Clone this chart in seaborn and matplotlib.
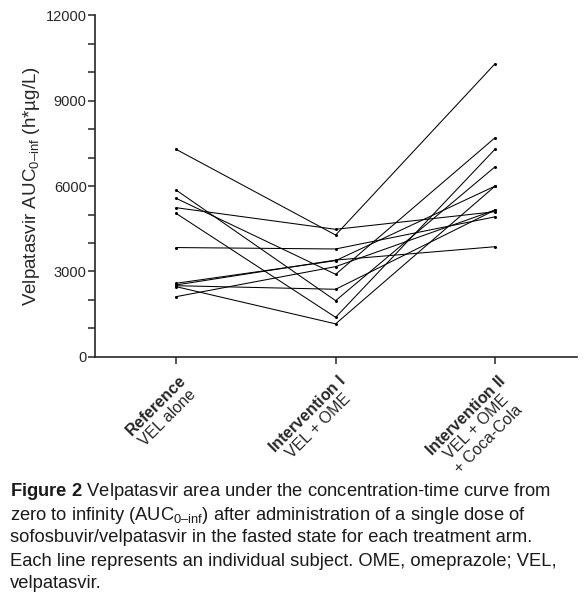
import matplotlib
matplotlib.use("Agg")
import matplotlib.pyplot as plt
import matplotlib.transforms as mtransforms
from matplotlib.ticker import MultipleLocator
import seaborn as sns
import pandas as pd

# data (h*ug/L), one row per subject
arms = ["Reference", "Intervention I", "Intervention II"]
ref_auc = [7290, 5860, 5570, 5240, 5040, 3840, 2585, 2526, 2467, 2500, 2115]
int1_auc = [4280, 1975, 2900, 4480, 1390, 3790, 3380, 3400, 1160, 2375, 3170]
int2_auc = [10300, 6680, 7700, 5100, 7300, 4920, 6000, 3870, 6000, 5160, 5160]
arm_labels = [r"$\bf{Reference}$" + "\nVEL alone",
              r"$\bf{Intervention\ I}$" + "\nVEL + OME",
              r"$\bf{Intervention\ II}$" + "\nVEL + OME\n+ Coca-Cola"]
y_ticks = [0, 3000, 6000, 9000, 12000]

rows = []
for i in range(len(ref_auc)):
    for j, vals in enumerate([ref_auc, int1_auc, int2_auc]):
        rows.append({"subject": i, "arm": j, "auc": vals[i]})
df = pd.DataFrame(rows)

sns.set_style("ticks")
plt.rcParams["font.family"] = ["Liberation Sans", "DejaVu Sans"]
plt.rcParams["mathtext.fontset"] = "custom"
plt.rcParams["mathtext.rm"] = "Liberation Sans"
plt.rcParams["mathtext.it"] = "Liberation Sans:italic"
plt.rcParams["mathtext.bf"] = "Liberation Sans:bold"

fig = plt.figure(figsize=(5.83, 6.08), dpi=100)
ax = fig.add_axes([0.163, 0.413, 0.827, 0.562])

sns.lineplot(data=df, x="arm", y="auc", units="subject", estimator=None,
             color="black", linewidth=0.75, marker="o", markersize=2.2,
             markeredgewidth=0, ax=ax, legend=False)

ax.set_xlim(-0.508, 2.514)
ax.set_ylim(0, 12000)
ax.set_yticks(y_ticks)
ax.set_yticklabels([str(v) for v in y_ticks], fontsize=10.5)
ax.yaxis.set_minor_locator(MultipleLocator(1000))
ax.tick_params(axis="y", which="both", length=5, width=1.1, pad=1)
ax.set_xticks([0, 1, 2])
ax.set_xticklabels([])
ax.tick_params(axis="x", length=5, width=1.1)
ax.set_xlabel("")
ax.set_ylabel("Velpatasvir AUC$_{\\mathrm{0–inf}}$ (h*µg/L)", fontsize=13.5, labelpad=3)
sns.despine(ax=ax)
for s in ["left", "bottom"]:
    ax.spines[s].set_linewidth(1.2)

trans = mtransforms.blended_transform_factory(ax.transData, ax.transAxes)
for j, lab in enumerate(arm_labels):
    ax.text(j + 0.01, -0.045, lab, transform=trans, rotation=45,
            rotation_mode="anchor", ha="right", va="top",
            multialignment="center", fontsize=11.5, linespacing=1.12)

caption = [
    r"$\bf{Figure\ 2}$ Velpatasvir area under the concentration-time curve from",
    r"zero to infinity (AUC$_{\mathrm{0–inf}}$) after administration of a single dose of",
    "sofosbuvir/velpatasvir in the fasted state for each treatment arm.",
    "Each line represents an individual subject. OME, omeprazole; VEL,",
    "velpatasvir.",
]
for k, line in enumerate(caption):
    fig.text(10 / 583, 1 - (492 + 23 * k) / 608, line, fontsize=13.2,
             ha="left", va="center", color="#1a1a1a")

fig.savefig("out.png", dpi=100)
